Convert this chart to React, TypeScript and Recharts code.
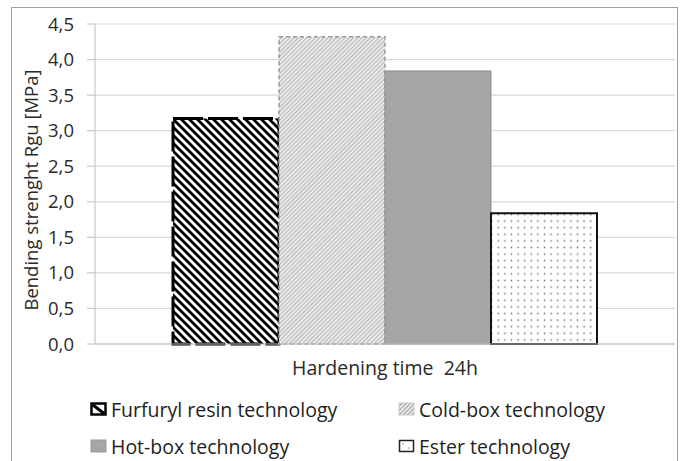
import React from 'react';
import { BarChart, Bar, XAxis, YAxis, CartesianGrid, Legend, Label } from 'recharts';

const categories = ['Hardening time\u00a0 24h'];
const furfuryl = [3.17];
const coldBox = [4.32];
const hotBox = [3.84];
const ester = [1.84];
const seriesNames = ['Furfuryl resin technology', 'Cold-box technology', 'Hot-box technology', 'Ester technology'];
const yTicks = [0, 0.5, 1, 1.5, 2, 2.5, 3, 3.5, 4, 4.5];

const data = categories.map((c, i) => ({
  name: c,
  furfuryl: furfuryl[i],
  coldBox: coldBox[i],
  hotBox: hotBox[i],
  ester: ester[i],
}));

const FONT = '"Open Sans", Lato, sans-serif';

const Icon = ({ kind }: { kind: number }) => {
  if (kind === 0) {
    return (
      <svg width={17} height={14} style={{ display: 'block' }}>
        <rect x={1.5} y={1.5} width={14} height={11} fill="#fff" stroke="#000" strokeWidth={2.5} />
        <line x1={3} y1={3} x2={14} y2={11.5} stroke="#000" strokeWidth={3} />
      </svg>
    );
  }
  if (kind === 1) {
    return (
      <svg width={17} height={14} style={{ display: 'block' }}>
        <defs>
          <pattern id="legCold" patternUnits="userSpaceOnUse" width={3} height={3} patternTransform="rotate(-45)">
            <rect width={3} height={3} fill="#fff" />
            <rect width={3} height={1.6} fill="#a8a8a8" />
          </pattern>
        </defs>
        <rect x={1} y={1} width={15} height={12} fill="url(#legCold)" stroke="#c8c8c8" strokeWidth={1} />
      </svg>
    );
  }
  if (kind === 2) {
    return (
      <svg width={17} height={14} style={{ display: 'block' }}>
        <rect x={1} y={1} width={15} height={12} fill="#a6a6a6" stroke="#9a9a9a" strokeWidth={1} />
      </svg>
    );
  }
  return (
    <svg width={17} height={14} style={{ display: 'block' }}>
      <rect x={1.5} y={1.5} width={14} height={11} fill="#fff" stroke="#222" strokeWidth={1.5} />
      <circle cx={5} cy={5} r={0.7} fill="#777" />
      <circle cx={11} cy={9} r={0.7} fill="#777" />
    </svg>
  );
};

const renderLegend = () => {
  const pos = [
    { left: 90, top: 35 },
    { left: 398, top: 35 },
    { left: 90, top: 72 },
    { left: 398, top: 72 },
  ];
  return (
    <div style={{ position: 'relative', width: 686, height: 82 }}>
      {seriesNames.map((n, i) => (
        <div
          key={n}
          style={{
            position: 'absolute',
            left: pos[i].left,
            top: pos[i].top - 13,
            height: 26,
            display: 'flex',
            alignItems: 'center',
            fontFamily: FONT,
            fontSize: 19.5,
            color: '#1e1e1e',
            whiteSpace: 'nowrap',
          }}
        >
          <Icon kind={i} />
          <span style={{ marginLeft: 4 }}>{n}</span>
        </div>
      ))}
    </div>
  );
};

export default function App() {
  return (
    <div style={{ position: 'absolute', left: 0, top: 0, width: 686, height: 461, overflow: 'hidden', background: '#fff' }}>
      <div
        style={{
          position: 'absolute',
          left: 11,
          top: 7,
          width: 667,
          height: 480,
          border: '1px solid #a0a0a0',
          boxSizing: 'border-box',
        }}
      />
      <div style={{ position: 'absolute', left: 0, top: 0 }}>
        <BarChart
          width={686}
          height={461}
          data={data}
          margin={{ top: 24, right: 11, left: 0, bottom: 5 }}
          barCategoryGap={78}
          barGap={0}
        >
          <defs>
            <pattern id="furf" patternUnits="userSpaceOnUse" width={8} height={5.66} patternTransform="rotate(45)">
              <rect width={8} height={5.66} fill="#fff" />
              <rect width={8} height={2.8} fill="#000" />
            </pattern>
            <pattern id="cold" patternUnits="userSpaceOnUse" width={3} height={3} patternTransform="rotate(-45)">
              <rect width={3} height={3} fill="#f2f2f2" />
              <rect width={3} height={1.3} fill="#b8b8b8" />
            </pattern>
            <pattern id="dots" patternUnits="userSpaceOnUse" width={6.6} height={6.6}>
              <rect width={6.6} height={6.6} fill="#fff" />
              <circle cx={3.3} cy={3.3} r={0.85} fill="#7a7a7a" />
            </pattern>
          </defs>
          <CartesianGrid vertical={false} stroke="#d9d9d9" strokeWidth={1.2} />
          <XAxis
            dataKey="name"
            tickLine={false}
            tickSize={0}
            tickMargin={17}
            height={30}
            axisLine={{ stroke: '#bfbfbf', strokeWidth: 1.2 }}
            tick={{ fontFamily: FONT, fontSize: 19.5, fill: '#2a2a2a' }}
          />
          <YAxis
            width={95}
            domain={[0, 4.5]}
            ticks={yTicks}
            interval={0}
            tickFormatter={(v: number) => v.toFixed(1).replace('.', ',')}
            axisLine={{ stroke: '#c8c8c8', strokeWidth: 1.2 }}
            tickLine={{ stroke: '#c8c8c8', strokeWidth: 1.2 }}
            tickSize={8}
            tickMargin={13}
            tick={{ fontFamily: FONT, fontSize: 18.5, fill: '#2a2a2a' }}
          >
            <Label
              content={() => (
                <text
                  x={30}
                  y={190}
                  transform="rotate(-90 30 190)"
                  textAnchor="middle"
                  dominantBaseline="central"
                  fontFamily={FONT}
                  fontSize={18.5}
                  fill="#2a2a2a"
                >
                  Bending strenght Rgu [MPa]
                </text>
              )}
            />
          </YAxis>
          <Legend
            content={renderLegend}
            verticalAlign="bottom"
            wrapperStyle={{ position: 'absolute', left: 0, top: 374, width: 686, height: 82 }}
          />
          <Bar dataKey="furfuryl" name={seriesNames[0]} fill="url(#furf)" stroke="#000" strokeWidth={3} strokeDasharray="30 5" isAnimationActive={false} />
          <Bar dataKey="coldBox" name={seriesNames[1]} fill="url(#cold)" stroke="#9a9a9a" strokeWidth={1.5} strokeDasharray="4 3" isAnimationActive={false} />
          <Bar dataKey="hotBox" name={seriesNames[2]} fill="#a6a6a6" stroke="#8f8f8f" strokeWidth={1} isAnimationActive={false} />
          <Bar dataKey="ester" name={seriesNames[3]} fill="url(#dots)" stroke="#111" strokeWidth={2} isAnimationActive={false} />
        </BarChart>
      </div>
    </div>
  );
}
